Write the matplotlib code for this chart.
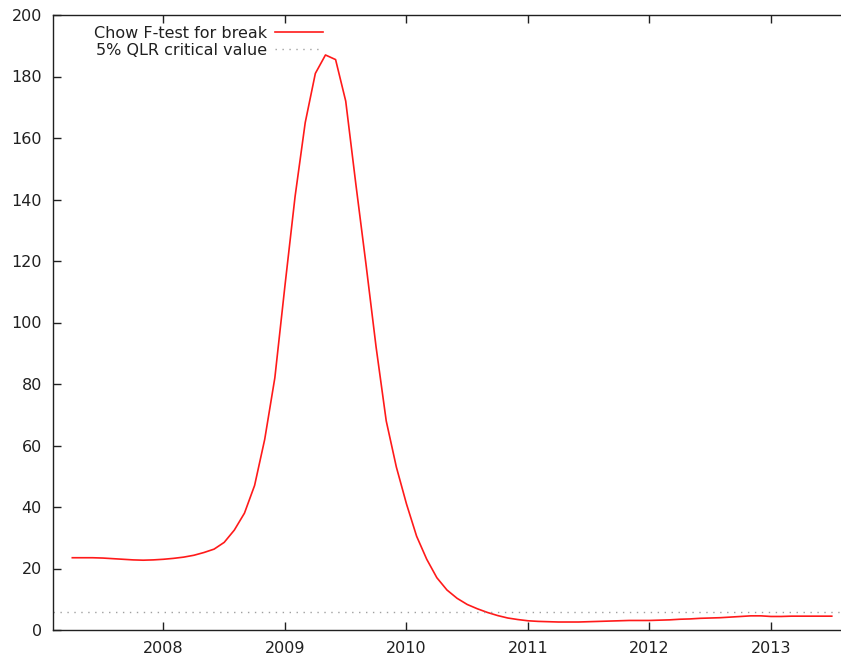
import numpy as np
import matplotlib
matplotlib.use("Agg")
import matplotlib.pyplot as plt

plt.rcParams["font.family"] = ["DejaVu Sans"]

# monthly Chow F statistics, 2007:04 .. 2013:07
start_year = 2007
start_month = 4
chow_f = [
    23.5, 23.5, 23.5, 23.4, 23.2, 23.0, 22.8, 22.7, 22.8,
    23.0, 23.3, 23.7, 24.3, 25.2, 26.3, 28.5, 32.5, 38.0, 47.0, 62.0, 82.0,
    112.0, 141.0, 165.0, 181.0, 187.0, 185.5, 172.0, 145.0, 119.0, 92.0, 68.0, 53.0,
    41.0, 30.5, 23.0, 17.0, 13.0, 10.3, 8.3, 6.9, 5.7, 4.7, 3.9, 3.4,
    3.0, 2.8, 2.7, 2.6, 2.6, 2.6, 2.7, 2.8, 2.9, 3.0, 3.1, 3.1,
    3.1, 3.2, 3.3, 3.5, 3.6, 3.8, 3.9, 4.0, 4.2, 4.4, 4.6, 4.6,
    4.4, 4.4, 4.5, 4.5, 4.5, 4.5, 4.5,
]
qlr_crit = 5.94

year_ticks = [2008, 2009, 2010, 2011, 2012, 2013]
y_ticks = list(range(0, 201, 20))

t = start_year + (start_month - 1 + np.arange(len(chow_f))) / 12.0

fig = plt.figure(figsize=(8.41, 6.61), dpi=100)
ax = fig.add_axes([53 / 841, 1 - 630 / 661, 1 - 53 / 841, (630 - 15) / 661])

ax.plot(t, chow_f, color="#ff1a1a", lw=1.2, label="Chow F-test for break")
ax.axhline(qlr_crit, color="#a0a0a0", lw=1.0, ls=(0, (1, 4)),
           label="5% QLR critical value")

ax.set_xlim(2007.091, 2013.576)
ax.set_ylim(0, 200)
ax.set_xticks(year_ticks)
ax.set_xticklabels([str(y) for y in year_ticks])
ax.set_yticks(y_ticks)

for s in ["left", "bottom", "top"]:
    ax.spines[s].set_color("#202020")
    ax.spines[s].set_linewidth(1.0)
ax.spines["right"].set_visible(False)

ax.tick_params(axis="both", direction="in", length=6, width=1, color="#202020",
               labelsize=11.5, labelcolor="#202020")
ax.tick_params(axis="x", top=True, pad=8)
ax.tick_params(axis="y", right=False, pad=8)

leg = ax.legend(loc="upper left", bbox_to_anchor=(0.0435, 0.993), frameon=False,
                markerfirst=False, fontsize=11.5, handlelength=3.0,
                handletextpad=0.5, labelspacing=0.15, borderaxespad=0)
for txt in leg.get_texts():
    txt.set_color("#202020")

fig.savefig("out.png", dpi=100)
